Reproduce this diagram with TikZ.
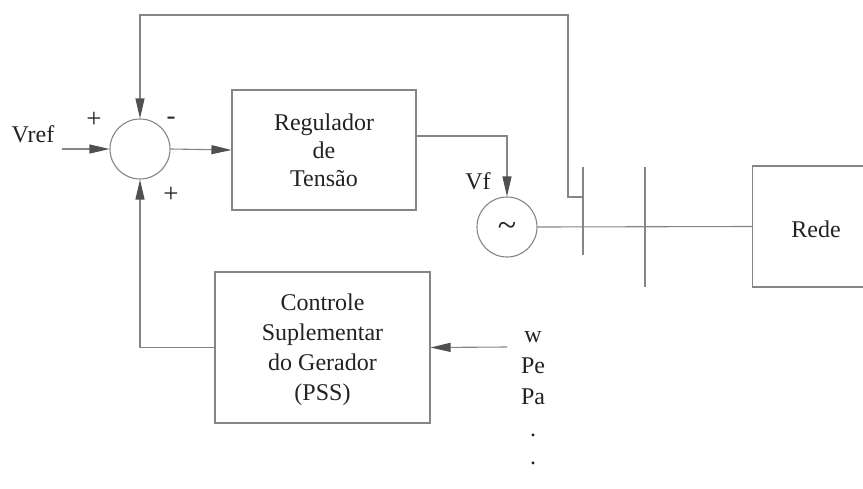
\documentclass[tikz,border=0pt]{standalone}
\usepackage{fontspec}
\setmainfont{Liberation Serif}
\usetikzlibrary{arrows.meta,calc}
\definecolor{linegray}{HTML}{858585}
\definecolor{tipgray}{HTML}{505050}
\definecolor{txt}{HTML}{222222}
\begin{document}
\begin{tikzpicture}[x=1pt,y=-1pt,
  line/.style={draw=linegray, line width=1.1pt},
  arr/.style={line, -{Triangle[length=20pt,width=9pt,color=tipgray,fill=tipgray]}},
  blk/.style={draw=linegray, line width=1.1pt, inner sep=0pt, fill=none},
  lbl/.style={font=\fontsize{24}{29}\selectfont, text=txt, align=center, inner sep=0pt},
  sgn/.style={font=\fontsize{27}{29}\selectfont, text=txt, inner sep=0pt}]
\path[use as bounding box, clip] (0,0) rectangle (863,488);

% blocks
\node[circle, line, minimum size=60pt, inner sep=0pt] (sum) at (140,149) {};
\node[blk, minimum width=184pt, minimum height=120pt] (reg) at (324,150) {};
\node[lbl, font=\fontsize{24}{28}\selectfont] (regtxt) at (324,150) {Regulador\\de\\Tensão};
\node[circle, line, minimum size=60pt, inner sep=0pt] (gen) at (507,227) {};
\node[lbl, font=\fontsize{34}{36}\selectfont] (tilde) at (507,229) {\char"007E};
\node[blk, minimum width=215pt, minimum height=151pt] (pss) at (322.5,347.5) {};
\node[lbl, font=\fontsize{24}{30}\selectfont] (psstxt) at (322.5,350) {Controle\\Suplementar\\do Gerador\\(PSS)};
\node[blk, minimum width=160pt, minimum height=121pt, anchor=west] (rede) at (752,226.5) {};
\node[lbl] (redetxt) at (816,229) {Rede};

% buses
\coordinate (b1t) at (583,167);
\coordinate (b1b) at (583,255);
\coordinate (b2t) at (645,167);
\coordinate (b2b) at (645,287);
\draw[line] (b1t) -- (b1b);
\draw[line] (b2t) -- (b2b);

% labels
\node[lbl] (vref) at (33,134) {Vref};
\node[lbl] (vf) at (478,181) {Vf};
\node[sgn] (p1) at (94,120) {+};
\node[sgn] (m1) at (171,121) {-};
\node[sgn] (p2) at (171,195) {+};
\node[lbl] (w) at (533,337) {w};
\node[lbl] (pe) at (533,366) {Pe};
\node[lbl] (pa) at (533,397) {Pa};
\node[lbl] (d1) at (533,435) {.};
\node[lbl] (d2) at (533,463) {.};

% connectors
\coordinate (vin) at (62,149);
\draw[arr] (vin) -- (sum.west);
\draw[arr] (sum.east) -- (reg.west);
\draw[arr] ($(reg.east)+(0,-14)$) -| (gen.north);
\coordinate (fb) at (583,197);
\draw[arr] (fb) -- (568,197) -- (568,15) -| (sum.north);
\draw[line] (gen.east) -- (rede.west);
\draw[arr] (pss.west) -| (sum.south);
\coordinate (inp) at (507,347);
\draw[arr] (inp) -- (pss.east);
\end{tikzpicture}
\end{document}
